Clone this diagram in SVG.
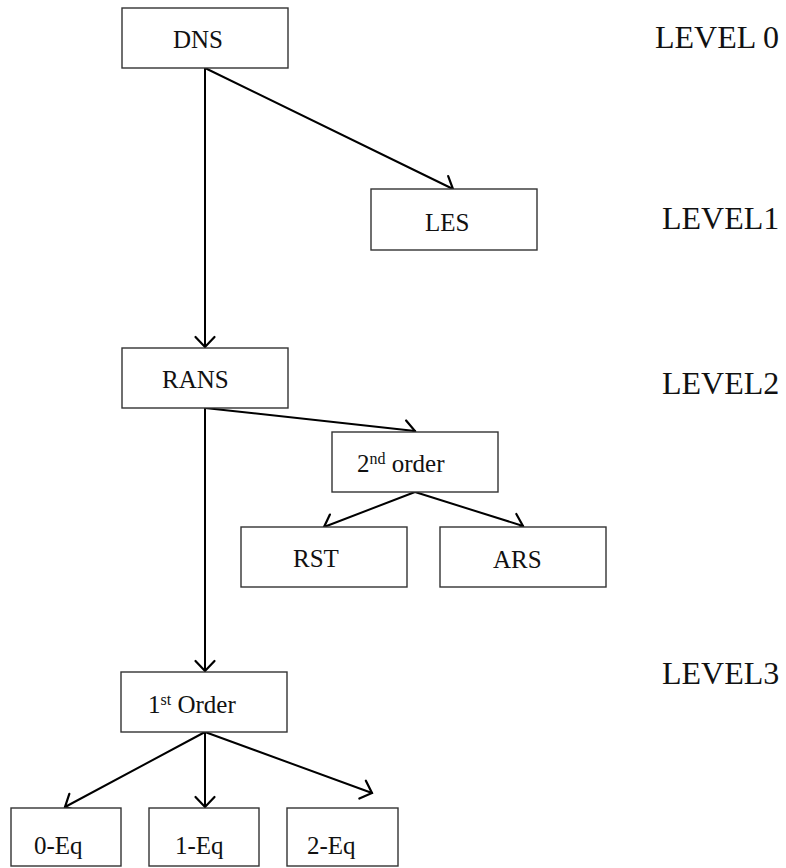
<svg xmlns="http://www.w3.org/2000/svg" width="786" height="868" viewBox="0 0 786 868">
<style>
.box{fill:#fff;stroke:#333;stroke-width:1.4}
.t{font-family:"Liberation Serif","Times New Roman",serif;font-size:25px;fill:#111}
.lv{font-family:"Liberation Serif","Times New Roman",serif;font-size:32px;fill:#111}
.sup{font-size:16px}
.c{stroke:#000;stroke-width:2;fill:none;stroke-linecap:round}
</style>
<defs>
<marker id="ah" markerUnits="userSpaceOnUse" viewBox="-13 -12 15 24" refX="0" refY="0" markerWidth="15" markerHeight="24" orient="auto">
<path d="M-10,-9.5 L0,0 L-10,9.5" fill="none" stroke="#000" stroke-width="2.2" stroke-linecap="round" stroke-linejoin="miter"/>
</marker>
</defs>
<rect width="786" height="868" fill="#fff"/>
<g id="connectors">
<line class="c" x1="205" y1="68" x2="205" y2="347" marker-end="url(#ah)"/>
<line class="c" x1="205" y1="68" x2="453" y2="189" marker-end="url(#ah)"/>
<line class="c" x1="205" y1="408" x2="205" y2="671" marker-end="url(#ah)"/>
<line class="c" x1="205" y1="408" x2="415" y2="431" marker-end="url(#ah)"/>
<line class="c" x1="415" y1="492" x2="324" y2="527" marker-end="url(#ah)"/>
<line class="c" x1="415" y1="492" x2="523" y2="526" marker-end="url(#ah)"/>
<line class="c" x1="205" y1="732" x2="65" y2="807" marker-end="url(#ah)"/>
<line class="c" x1="205" y1="732" x2="205" y2="807" marker-end="url(#ah)"/>
<line class="c" x1="205" y1="732" x2="372" y2="793" marker-end="url(#ah)"/>
</g>
<g id="dns"><rect class="box" x="122" y="8" width="166" height="60"/><text class="t" x="173" y="48">DNS</text></g>
<g id="les"><rect class="box" x="371" y="189" width="166" height="61"/><text class="t" x="425" y="231">LES</text></g>
<g id="rans"><rect class="box" x="122" y="348" width="166" height="60"/><text class="t" x="162" y="388">RANS</text></g>
<g id="second"><rect class="box" x="332" y="432" width="166" height="60"/><text class="t" x="357" y="472">2<tspan class="sup" dy="-8">nd</tspan><tspan dy="8"> order</tspan></text></g>
<g id="rst"><rect class="box" x="241" y="527" width="166" height="60"/><text class="t" x="293" y="567">RST</text></g>
<g id="ars"><rect class="box" x="440" y="527" width="166" height="60"/><text class="t" x="493" y="568">ARS</text></g>
<g id="first"><rect class="box" x="121" y="672" width="166" height="60"/><text class="t" x="148" y="713">1<tspan class="sup" dy="-8">st</tspan><tspan dy="8"> Order</tspan></text></g>
<g id="eq0"><rect class="box" x="11" y="808" width="110" height="58"/><text class="t" x="34" y="854">0-Eq</text></g>
<g id="eq1"><rect class="box" x="149" y="808" width="110" height="58"/><text class="t" x="175" y="854">1-Eq</text></g>
<g id="eq2"><rect class="box" x="287" y="808" width="111" height="58"/><text class="t" x="307" y="854">2-Eq</text></g>
<g id="levels">
<text class="lv" x="655" y="48">LEVEL 0</text>
<text class="lv" x="662" y="229">LEVEL1</text>
<text class="lv" x="662" y="394">LEVEL2</text>
<text class="lv" x="662" y="684">LEVEL3</text>
</g>
</svg>
